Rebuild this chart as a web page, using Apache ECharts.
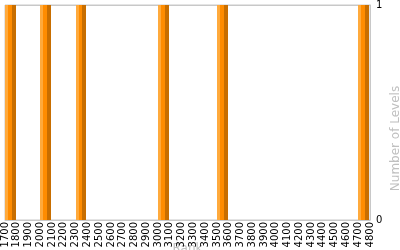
<!DOCTYPE html>
<html><head><meta charset="utf-8">
<script src="https://cdn.jsdelivr.net/npm/echarts@6/dist/echarts.min.js"></script>
<style>html,body{margin:0;padding:0;background:#fff}#c{width:400px;height:250px}</style>
</head><body><div id="c"></div>
<script>
const binStarts = [1700, 2000, 2300, 3000, 3500, 4700];
const binEnds = [1800, 2100, 2400, 3100, 3600, 4800];
const levelCounts = [1, 1, 1, 1, 1, 1];
const xTickLabels = [1700,1800,1900,2000,2100,2200,2300,2400,2500,2600,2700,2800,2900,3000,3100,3200,3300,3400,3500,3600,3700,3800,3900,4000,4100,4200,4300,4400,4500,4600,4700,4800];
const yTickLabels = [0, 1];

const chart = echarts.init(document.getElementById('c'), null, {renderer: 'canvas'});
const grad = new echarts.graphic.LinearGradient(0, 0, 1, 0, [
  {offset: 0, color: '#FFAA3C'}, {offset: 0.27, color: '#FFAA3C'},
  {offset: 0.27, color: '#FF8C00'}, {offset: 0.64, color: '#FF8C00'},
  {offset: 0.64, color: '#C86E00'}, {offset: 1, color: '#C86E00'}
]);
const data = binStarts.map((s, i) => [s, binEnds[i], levelCounts[i]]);
chart.setOption({
  animation: false,
  grid: {left: 5, right: 30, top: 5, bottom: 30, show: true, borderColor: '#c8c8c8', borderWidth: 1,
    containLabel: false, outerBoundsMode: 'none'},
  xAxis: {
    type: 'value',
    min: xTickLabels[0], max: xTickLabels[xTickLabels.length - 1], interval: 100,
    name: 'Rank', nameLocation: 'middle', nameGap: 23, nameMoveOverlap: false,
    nameTextStyle: {color: '#c0c0c0', fontSize: 12, fontFamily: 'DejaVu Sans'},
    axisLine: {show: true, lineStyle: {color: '#c8c8c8'}},
    axisTick: {show: false},
    splitLine: {show: false},
    axisLabel: {rotate: 90, fontSize: 10, color: '#000', fontFamily: 'DejaVu Sans', margin: 2,
      hideOverlap: false,
      formatter: v => xTickLabels.includes(v) ? String(v) : ''}
  },
  yAxis: {
    type: 'value', position: 'right',
    min: yTickLabels[0], max: yTickLabels[1], interval: 1,
    name: 'Number of Levels', nameLocation: 'middle', nameGap: 20, nameMoveOverlap: false,
    nameTextStyle: {color: '#c0c0c0', fontSize: 12, fontFamily: 'DejaVu Sans', padding: [0, 52, 0, 0]},
    axisLine: {show: true, lineStyle: {color: '#c8c8c8'}},
    axisTick: {show: false},
    splitLine: {show: true, lineStyle: {color: '#c8c8c8'}},
    axisLabel: {fontSize: 10, color: '#000', fontFamily: 'DejaVu Sans', margin: 6}
  },
  series: [{
    type: 'custom',
    data: data,
    encode: {x: [0, 1], y: 2},
    renderItem: function (params, api) {
      const p0 = api.coord([api.value(0), api.value(2)]);
      const p1 = api.coord([api.value(1), 0]);
      return {type: 'rect', shape: {x: Math.round(p0[0]), y: p0[1], width: Math.round(p1[0]) - Math.round(p0[0]) - 1, height: p1[1] - p0[1]},
        style: {fill: grad}};
    }
  }]
});
</script></body></html>
